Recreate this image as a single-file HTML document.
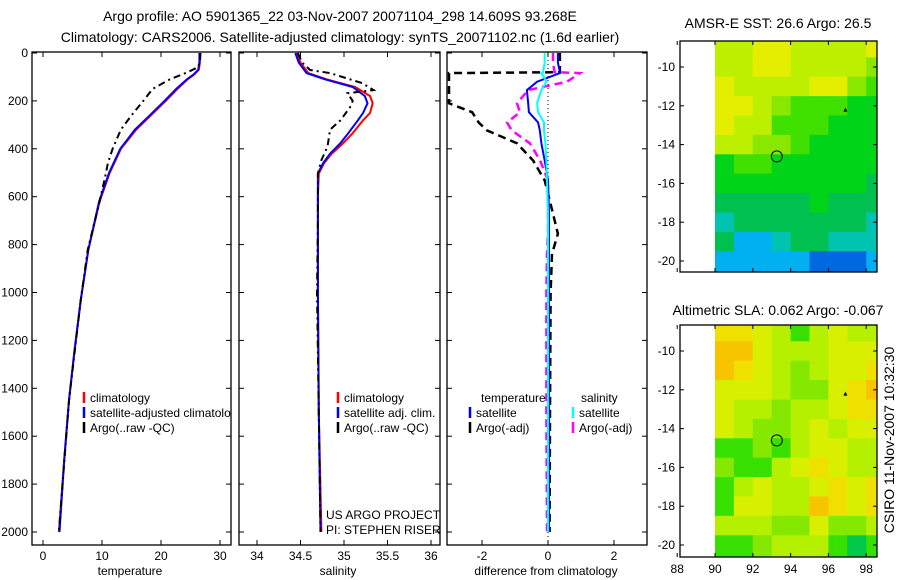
<!DOCTYPE html>
<html><head><meta charset="utf-8"><style>
body{margin:0;background:#fff;}
svg{display:block;font-family:"Liberation Sans",sans-serif;}
text{font-size:12px;fill:#000;}
.big{font-size:14px;}
</style></head><body>
<svg id="fig" width="900" height="580" xmlns="http://www.w3.org/2000/svg">
<text class="big" x="340" y="21" text-anchor="middle">Argo profile: AO 5901365_22 03-Nov-2007 20071104_298 14.609S 93.268E</text>
<text class="big" x="340" y="42" text-anchor="middle">Climatology: CARS2006. Satellite-adjusted climatology: synTS_20071102.nc (1.6d earlier)</text>
<text class="big" x="778" y="28" text-anchor="middle">AMSR-E SST: 26.6 Argo: 26.5</text>
<text class="big" x="778" y="315" text-anchor="middle">Altimetric SLA: 0.062 Argo: -0.067</text>
<text class="big" x="0" y="0" transform="translate(894,440) rotate(-90)" text-anchor="middle">CSIRO 11-Nov-2007 10:32:30</text>
</svg>
<script>
// depth levels (m)
const depthT = [0,40,70,90,110,150,200,260,320,400,500,620,820,1030,1250,1450,1700,2000];
const tempClim = [26.6,26.6,26.4,25.6,24.5,22.8,20.8,18.3,15.8,13.2,11.3,9.6,7.7,6.4,5.3,4.4,3.6,2.7];
const tempSat  = [26.5,26.5,26.3,25.5,24.4,22.6,20.6,18.1,15.6,13.1,11.2,9.5,7.7,6.4,5.3,4.4,3.6,2.8];
const depthArgoT = [0,40,60,80,110,150,200,260,320,400,460,520,620,820,1030,1450,2000];
const tempArgo = [26.7,26.6,26.2,24.5,21.5,18.6,17.0,15.0,13.2,11.8,11.0,10.5,9.6,7.6,6.4,4.4,2.7];

const depthS = [0,40,84,110,142,180,210,250,281,335,380,420,460,503,600,1000,1500,2000];
const salClim = [34.46,34.5,34.59,34.8,35.13,35.3,35.33,35.3,35.22,35.1,34.98,34.86,34.77,34.71,34.7,34.7,34.71,34.74];
const salSat  = [34.44,34.48,34.57,34.78,35.1,35.24,35.27,35.22,35.16,35.05,34.95,34.84,34.76,34.7,34.7,34.7,34.71,34.73];
const depthArgoS = [0,40,71,84,126,155,168,200,226,281,320,391,447,503,700,1000,2000];
const salArgo = [34.47,34.52,34.61,34.84,35.21,35.34,35.04,35.1,35.07,34.96,34.84,34.81,34.74,34.7,34.7,34.69,34.73];

const depthD = [0,40,80,84,120,155,210,247,290,323,377,449,532,671,755,839,1000,1500,2000];
const diffTsat = [0.3,0.3,0.36,0.36,-0.33,-0.64,-0.6,-0.58,-0.3,-0.25,-0.2,-0.1,0.0,0.03,0.03,0.03,0.03,0.03,0.03];
const diffTargo = [0.36,0.36,0.36,-3.0,-3.0,-3.0,-3.0,-2.3,-2.1,-1.85,-0.94,-0.45,-0.1,0.15,0.3,0.12,0.08,0.06,0.05];
const diffSsat = [-0.1,-0.1,-0.15,-0.2,-0.05,-0.2,-0.33,-0.3,-0.12,-0.12,-0.08,-0.05,-0.03,0,0,0,0,0,0];
const diffSargo = [0.15,0.15,0.2,0.97,0.58,-0.6,-0.94,-0.85,-1.24,-1.1,-0.55,-0.24,0.0,0.0,0.0,-0.03,-0.05,-0.05,-0.03];

const depthTicks = [0,200,400,600,800,1000,1200,1400,1600,1800,2000];
const tempTicks = [0,10,20,30];
const salTicks = [34,34.5,35,35.5,36];
const diffTicks = [-2,0,2];

// map grids (rows from north -9 to south -20, cols from 90E to 98E, 1 deg)
const sstPalette = ["#e6ee00","#bcf000","#8ae800","#40e000","#00d418","#00c050","#00c4b0","#00b0f0","#0068e0"];
const sstGrid = [
 [1,1,0,0,1,1,1,1,0],
 [1,1,0,0,1,1,1,1,2],
 [0,1,1,1,1,0,0,2,3],
 [0,0,1,2,3,3,3,4,4],
 [0,1,1,3,3,3,4,4,4],
 [1,1,2,2,3,4,4,4,4],
 [4,3,3,4,4,4,4,4,4],
 [4,4,4,4,4,4,4,4,5],
 [5,5,5,5,5,4,5,5,5],
 [6,5,5,5,5,5,5,5,6],
 [5,7,7,6,5,5,6,6,6],
 [7,7,7,7,7,8,8,8,7]];
const slaPalette = ["#f8c400","#f0e000","#d8f000","#b4f000","#84e800","#38e000","#00c848"];
const slaGrid = [
 [1,1,2,3,5,3,2,3,3],
 [0,0,2,3,3,3,2,2,2],
 [0,1,2,3,4,3,2,2,1],
 [2,2,2,3,4,4,2,1,0],
 [2,3,3,4,3,3,2,1,1],
 [2,3,4,4,3,2,3,2,2],
 [5,5,4,5,3,2,2,3,3],
 [4,5,5,3,2,1,2,3,3],
 [5,3,2,3,3,2,1,2,1],
 [5,2,2,3,3,0,1,2,1],
 [3,3,3,4,4,2,4,4,3],
 [5,5,4,3,3,3,5,6,5]];
const mapLonTicks = [88,90,92,94,96,98];
const mapLatTicks = [-10,-12,-14,-16,-18,-20];
const argoPos = [93.27,-14.61];

const NS="http://www.w3.org/2000/svg";
const svg=document.getElementById('fig');
function el(tag,attrs,parent){const e=document.createElementNS(NS,tag);for(const k in attrs)e.setAttribute(k,attrs[k]);(parent||svg).appendChild(e);return e;}
const yD = d => 53 + d*0.2395;
const PT=52, PB=545;

function panel(name,x0,x1,xs,ticks,fmt,showY,label,labelX){
  const g=el('g',{});
  
  
  const r=el('rect',{x:x0,y:PT,width:x1-x0,height:PB-PT,fill:'none',stroke:'#000','stroke-width':1.3},g);
  
  
  ticks.forEach(t=>{const x=xs(t);
    el('line',{x1:x,x2:x,y1:PB,y2:PB-5,stroke:'#000'},g);
    el('line',{x1:x,x2:x,y1:PT,y2:PT+5,stroke:'#000'},g);
    const tx=el('text',{x:x,y:PB+15,'text-anchor':'middle'},g);tx.textContent=fmt(t);
    
    
  });
  depthTicks.forEach(d=>{const y=yD(d);
    el('line',{x1:x0,x2:x0+5,y1:y,y2:y,stroke:'#000'},g);
    el('line',{x1:x1,x2:x1-5,y1:y,y2:y,stroke:'#000'},g);
    if(showY){const tx=el('text',{x:x0-4,y:y+4,'text-anchor':'end'},g);tx.textContent=d;
      
      }
  });
  const lb=el('text',{x:labelX,y:575,'text-anchor':'middle'},g);lb.textContent=label;
  
  
  return g;
}
function clip(id,x0,x1){const c=el('clipPath',{id:id});el('rect',{x:x0,y:PT,width:x1-x0,height:PB-PT},c);}
function line(xs,vals,deps,color,dash,name,clipId,w){
  const pts=vals.map((v,i)=>xs(v).toFixed(1)+','+yD(deps[i]).toFixed(1)).join(' ');
  const p=el('polyline',{points:pts,fill:'none',stroke:color,'stroke-width':w||2,'stroke-dasharray':dash||'none','clip-path':'url(#'+clipId+')'});
  
  
}
function legend(x,y,color,dash,txt,clipId){
  const b=el('line',{x1:x,x2:x,y1:y-6,y2:y+5,stroke:color,'stroke-width':2.5});
  
  
  const t=el('text',{x:x+6,y:y+4});t.textContent=txt;
  if(clipId)t.setAttribute('clip-path','url(#'+clipId+')');
  
  
}

// Panel 1 temperature
const xT=v=>43+v*5.9;
clip('c1',32,231);
panel('temperature-panel',32,231,xT,tempTicks,String,true,'temperature',130);
line(xT,tempClim,depthT,'#ff0000',null,'temp-climatology-line','c1');
line(xT,tempSat,depthT,'#0000ff',null,'temp-satellite-line','c1');
line(xT,tempArgo,depthArgoT,'#000',"7,4,2,4",'temp-argo-line','c1');
legend(84,398,'#f00',null,'climatology','c1');
legend(84,413,'#00f',null,'satellite-adjusted climatology','c1');
legend(84,428,'#000',null,'Argo(..raw -QC)','c1');

// Panel 2 salinity
const xS=v=>257+(v-34)*87;
clip('c2',239,440);
panel('salinity-panel',239,440,xS,salTicks,String,false,'salinity',338);
line(xS,salClim,depthS,'#ff0000',null,'sal-climatology-line','c2');
line(xS,salSat,depthS,'#0000ff',null,'sal-satellite-line','c2');
line(xS,salArgo,depthArgoS,'#000',"7,4,2,4",'sal-argo-line','c2');
legend(338,398,'#f00',null,'climatology','c2');
legend(338,413,'#00f',null,'satellite adj. clim.','c2');
legend(338,428,'#000',null,'Argo(..raw -QC)','c2');
[['US ARGO PROJECT',519],['PI: STEPHEN RISER',534]].forEach(([s,y])=>{const t=el('text',{x:326,y:y,'clip-path':'url(#c2)'});t.textContent=s;
  
  });

// Panel 3 differences
const xDf=v=>548+v*33;
clip('c3',447,647);
panel('difference-panel',447,647,xDf,diffTicks,String,false,'difference from climatology',546);
el('line',{x1:xDf(0),x2:xDf(0),y1:PT,y2:PB,stroke:'#000','stroke-dasharray':'1,3'});
line(xDf,diffTargo,depthD,'#000',"8,5",'diff-temp-argo-line','c3',2.5);
line(xDf,diffSargo,depthD,'#ff00ff',"8,5",'diff-sal-argo-line','c3',2.5);
line(xDf,diffTsat,depthD,'#0000ff',null,'diff-temp-sat-line','c3');
line(xDf,diffSsat,depthD,'#00ffff',null,'diff-sal-sat-line','c3');
{const t=el('text',{x:481,y:402});t.textContent='temperature';
 const t2=el('text',{x:581,y:402});t2.textContent='salinity';}
legend(470,413,'#00f',null,'satellite');
legend(470,428,'#000',null,'Argo(-adj)');
legend(573,413,'#0ff',null,'satellite');
legend(573,428,'#f0f',null,'Argo(-adj)');

// Maps
function map(name,top,bot,grid,pal){
  const L=680,R=877;
  const xL=lon=>715+(lon-90)*18.9;
  const yL=lat=>top+(-8.66-lat)*19.4;
  const g=el('g',{});
  
  
  grid.forEach((row,i)=>row.forEach((v,j)=>{
    const x0=xL(90+j), x1=Math.min(xL(91+j),R);
    const y0=Math.max(yL(-8.5-i),top), y1=Math.min(yL(-9.5-i),bot);
    const y1b = i===grid.length-1 ? bot : y1;
    const c=el('rect',{x:x0,y:y0,width:x1-x0+0.5,height:y1b-y0+0.5,fill:pal[v]},g);
    
    
  }));
  const fr=el('rect',{x:L,y:top,width:R-L,height:bot-top,fill:'none',stroke:'#000','stroke-width':1.3},g);
  
  
  mapLonTicks.forEach(lon=>{const x=xL(lon);
    el('line',{x1:x,x2:x,y1:bot,y2:bot-4,stroke:'#000'},g);el('line',{x1:x,x2:x,y1:top,y2:top+4,stroke:'#000'},g);
    if(name==='sla-map'){const t=el('text',{x:x,y:bot+16,'text-anchor':'middle'},g);t.textContent=lon;
      
      }
  });
  mapLatTicks.forEach(lat=>{const y=yL(lat);
    el('line',{x1:L,x2:L+4,y1:y,y2:y,stroke:'#000'},g);el('line',{x1:R,x2:R-4,y1:y,y2:y,stroke:'#000'},g);
    const t=el('text',{x:L-5,y:y+4,'text-anchor':'end'},g);t.textContent=lat;
    
    
  });
  const c=el('circle',{cx:xL(argoPos[0]),cy:yL(argoPos[1]),r:5.5,fill:'none',stroke:'#000','stroke-width':1},g);
  
  
  el('polygon',{points:`${xL(96.9)-2},${yL(-12.25)+1} ${xL(96.9)+2},${yL(-12.25)+1} ${xL(96.9)},${yL(-12.25)-3}`,fill:'#000'},g);
}
map('sst-map',41,272,sstGrid,sstPalette);
map('sla-map',325,557,slaGrid,slaPalette);
</script>
</body></html>
